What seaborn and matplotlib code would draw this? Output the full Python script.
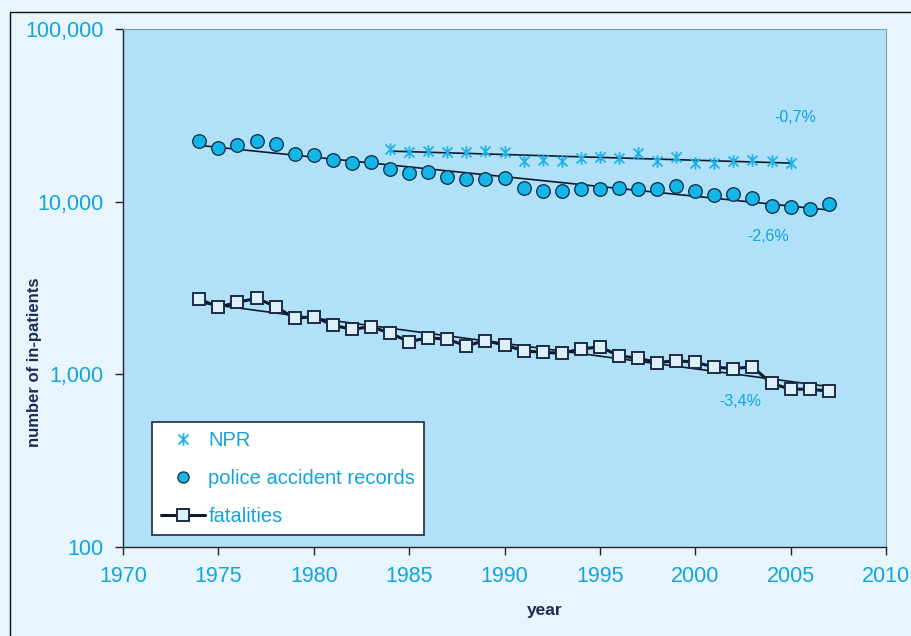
import matplotlib
matplotlib.use("Agg")
import matplotlib.pyplot as plt
from matplotlib.patches import Rectangle
from matplotlib.path import Path
from matplotlib.ticker import FixedLocator, FuncFormatter, NullLocator
from matplotlib.lines import Line2D
import seaborn as sns
import numpy as np
import pandas as pd

# NPR (hospital register), 1984-2005
npr_years = list(range(1984, 2006))
npr_values = [20100, 19300, 19700, 19300, 19300, 19700, 19300, 17300, 17500, 17300, 17900,
              18100, 17900, 19100, 17300, 18100, 16800, 16700, 17300, 17400, 17100, 16800]

# police accident records, 1974-2007
police_years = list(range(1974, 2008))
police_values = [22500, 20500, 21300, 22500, 21600, 19000, 18600, 17500, 16800, 17050,
                 15500, 14600, 14800, 13900, 13600, 13600, 13700, 11950, 11600, 11550,
                 11800, 11800, 12050, 11800, 11800, 12400, 11500, 10900, 11100, 10550,
                 9450, 9350, 9050, 9700]

# fatalities, 1974-2007
fatal_years = list(range(1974, 2008))
fatal_values = [2730, 2450, 2610, 2760, 2470, 2110, 2160, 1930, 1820, 1890,
                1730, 1545, 1630, 1595, 1465, 1565, 1480, 1370, 1340, 1325,
                1400, 1445, 1280, 1240, 1170, 1200, 1175, 1100, 1080, 1105,
                885, 820, 820, 800]

trend_labels = ["-0,7%", "-2,6%", "-3,4%"]

cyan_text = "#12a4de"
navy = "#1b2c55"
panel_bg = "#b0e1f8"
outer_bg = "#e8f5fd"

# excel-style star: vertical bar plus an x
star = Path([(0, -1), (0, 1), (-0.8, -0.8), (0.8, 0.8), (-0.8, 0.8), (0.8, -0.8)],
            [Path.MOVETO, Path.LINETO, Path.MOVETO, Path.LINETO, Path.MOVETO, Path.LINETO])

sns.set_style("ticks")
plt.rcParams["font.family"] = ["Liberation Sans", "DejaVu Sans"]

fig = plt.figure(figsize=(9.11, 6.36), dpi=100, facecolor=outer_bg)
ax = fig.add_axes([123 / 911, 1 - 547 / 636, 763 / 911, 518 / 636])
ax.set_facecolor(panel_bg)

npr_df = pd.DataFrame({"year": npr_years, "value": npr_values})
police_df = pd.DataFrame({"year": police_years, "value": police_values})
fatal_df = pd.DataFrame({"year": fatal_years, "value": fatal_values})


# exponential trend lines (like the spreadsheet trendlines)
def trend(df):
    k, b = np.polyfit(df["year"], np.log(df["value"]), 1)
    xs = np.array([df["year"].min(), df["year"].max()])
    return pd.DataFrame({"year": xs, "value": np.exp(k * xs + b)})


for d in (npr_df, police_df, fatal_df):
    sns.lineplot(data=trend(d), x="year", y="value", ax=ax, color="#0d1a30",
                 linewidth=1.2, zorder=2)

sns.lineplot(data=fatal_df, x="year", y="value", ax=ax, color="#0d1a30", linewidth=2.2,
             marker="s", markersize=8.5, markerfacecolor="#dcf0fb",
             markeredgecolor="#1d2b44", markeredgewidth=1.4, zorder=3)
sns.scatterplot(data=police_df, x="year", y="value", ax=ax, marker="o", s=95,
                color="#14b6e8", edgecolor="#183453", linewidth=1.0, zorder=4)
ax.plot(npr_df["year"], npr_df["value"], linestyle="none", marker=star,
        markersize=9, markeredgewidth=1.3, color="#1cb3ea", zorder=5)

ax.set_yscale("log")
ax.set_xlim(1970, 2010)
ax.set_ylim(100, 100000)
ax.xaxis.set_major_locator(FixedLocator(range(1970, 2011, 5)))
ax.yaxis.set_major_locator(FixedLocator([100, 1000, 10000, 100000]))
ax.yaxis.set_minor_locator(NullLocator())
ax.yaxis.set_major_formatter(FuncFormatter(lambda v, p: f"{int(v):,}"))
ax.tick_params(axis="both", which="major", labelsize=15.5, labelcolor=cyan_text,
               length=6, width=1.0, color="#222222", direction="out")
ax.tick_params(axis="y", pad=8)
ax.tick_params(axis="x", pad=8)
ax.set_xlabel("")
ax.set_ylabel("")
for side in ("left", "bottom"):
    ax.spines[side].set_color("#222222")
    ax.spines[side].set_linewidth(1.0)
for side in ("top", "right"):
    ax.spines[side].set_visible(True)
    ax.spines[side].set_color("#8a9aa6")
    ax.spines[side].set_linewidth(0.8)

# percentage annotations
for (xp, yp), lab in zip([(795, 118), (768, 237), (740, 402)], trend_labels):
    yr = 1970 + (xp - 123) / 763 * 40
    val = 10 ** (5 - (yp - 29) / 172.67)
    ax.text(yr, val, lab, color=cyan_text, fontsize=11.5, ha="center", va="center")

# legend
handles = [
    Line2D([], [], linestyle="none", marker=star, markersize=9,
           markeredgewidth=1.3, color="#1cb3ea"),
    Line2D([], [], linestyle="none", marker="o", markersize=8, markerfacecolor="#14b6e8",
           markeredgecolor="#183453", markeredgewidth=1.0),
    Line2D([], [], color="#0d1a30", linewidth=2.2, marker="s", markersize=8.5,
           markerfacecolor="#dcf0fb", markeredgecolor="#1d2b44", markeredgewidth=1.4),
]
leg = ax.legend(handles, ["NPR", "police accident records", "fatalities"],
                loc="lower left", bbox_to_anchor=(0.038, 0.023), borderaxespad=0,
                fontsize=14.5, labelcolor=cyan_text, frameon=True, fancybox=False,
                edgecolor="#1d2b44", facecolor="white", framealpha=1,
                handlelength=2.2, handletextpad=0.15, labelspacing=0.95,
                borderpad=0.45)
leg.get_frame().set_linewidth(1.2)

fig.text(35 / 911, 1 - 362 / 636, "number of in-patients", rotation=90, ha="center",
         va="center", fontsize=12, fontweight="bold", color=navy)
fig.text(545 / 911, 1 - 610 / 636, "year", ha="center", va="center", fontsize=12.5,
         fontweight="bold", color=navy)

fig.patches.append(Rectangle((10 / 911, -0.1), 1.0, 1 - 12 / 636 + 0.1,
                             transform=fig.transFigure, fill=False,
                             edgecolor="#111111", linewidth=1.0, zorder=-1))

fig.savefig("out.png", dpi=100, facecolor=outer_bg)
